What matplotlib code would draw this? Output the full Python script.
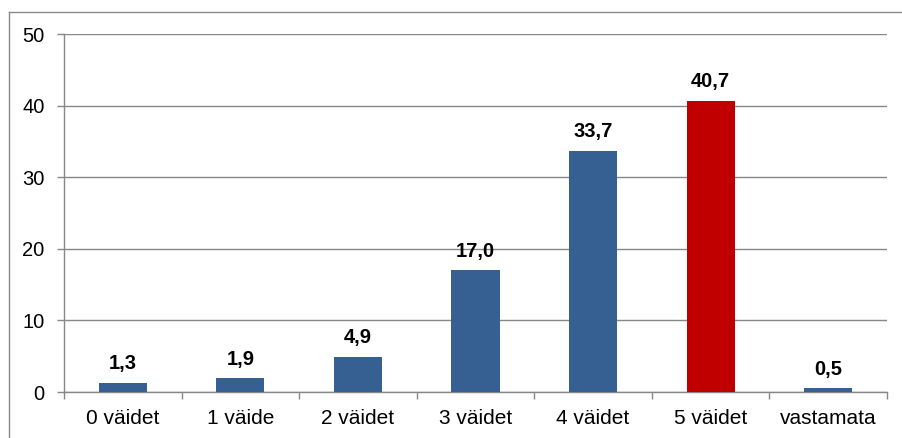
import matplotlib
matplotlib.use("Agg")
import matplotlib.pyplot as plt
from matplotlib.lines import Line2D
import numpy as np

categories = ["0 väidet", "1 väide", "2 väidet", "3 väidet", "4 väidet", "5 väidet", "vastamata"]
values = [1.3, 1.9, 4.9, 17.0, 33.7, 40.7, 0.5]
labels = ["1,3", "1,9", "4,9", "17,0", "33,7", "40,7", "0,5"]
highlight = "5 väidet"
yticks = [0, 10, 20, 30, 40, 50]

plt.rcParams['font.family'] = ['Liberation Sans', 'DejaVu Sans']

fig = plt.figure(figsize=(9.03, 4.38), dpi=100)
ax = fig.add_axes([64/903, 46/438, (887-64)/903, (392-34)/438])

blue = "#376092"
red = "#C00000"
grid = "#878787"
colors = [red if c == highlight else blue for c in categories]
x = np.arange(len(categories))
bars = ax.bar(x, values, width=0.41, color=colors, zorder=3)

for b, lab in zip(bars, labels):
    ax.annotate(lab, (b.get_x() + b.get_width()/2, b.get_height()),
                xytext=(0, 7), textcoords="offset points",
                ha="center", va="bottom", fontsize=14.5, fontweight="bold", color="black")

ax.set_xlim(-0.5, len(categories) - 0.5)
ax.set_ylim(0, 50)
ax.set_yticks(yticks)
ax.set_yticklabels([str(v) for v in yticks], fontsize=14.5)
ax.yaxis.grid(True, color=grid, linewidth=1, zorder=0)
ax.set_axisbelow(True)

ax.set_xticks(x)
ax.set_xticklabels(categories, fontsize=15)
ax.tick_params(axis="x", length=0, pad=12)
ax.set_xticks(np.arange(-0.5, len(categories) + 0.5, 1), minor=True)
ax.tick_params(axis="x", which="minor", length=5, color=grid, width=1, direction="out")
ax.tick_params(axis="y", length=5, color=grid, width=1, direction="out", pad=9)

for s in ["top", "right"]:
    ax.spines[s].set_visible(False)
for s in ["left", "bottom"]:
    ax.spines[s].set_color(grid)
    ax.spines[s].set_linewidth(1)

# outer chart frame (left and top edges visible)
fig.add_artist(Line2D([9.5/903, 9.5/903], [0, (438-11.5)/438], transform=fig.transFigure, color="#888888", linewidth=1))
fig.add_artist(Line2D([9.5/903, 1.0], [(438-11.5)/438, (438-11.5)/438], transform=fig.transFigure, color="#888888", linewidth=1))

fig.savefig("out.png", dpi=100)
